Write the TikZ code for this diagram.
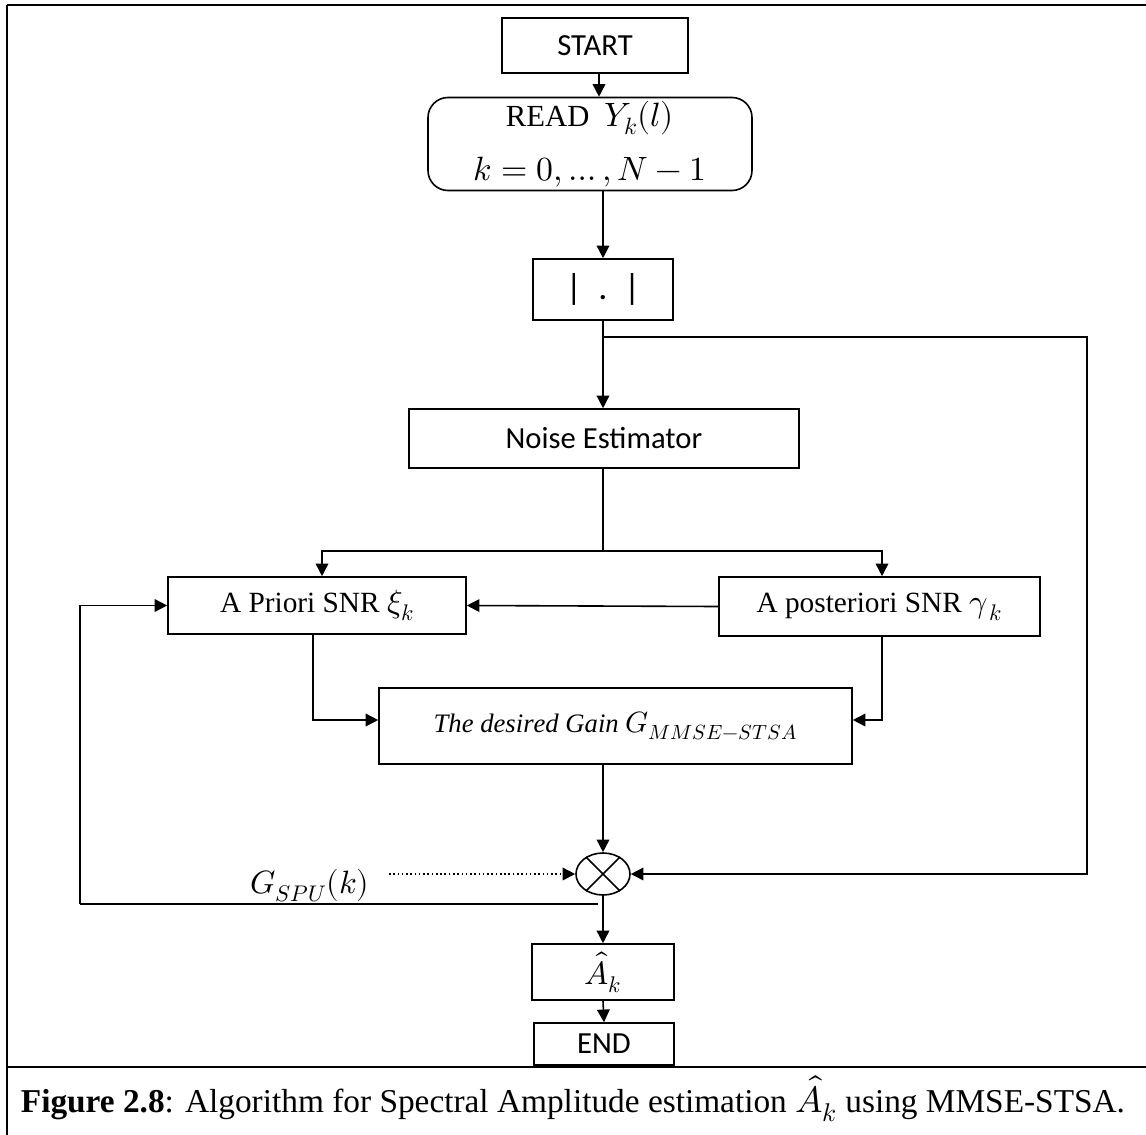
\documentclass[tikz,border=0pt]{standalone}
\usepackage{fontspec}
\usepackage{unicode-math}
\setmainfont{Liberation Serif}
\setmathfont{Latin Modern Math}[Scale=1.1]
\newfontfamily\calibrifont{Carlito}
\usetikzlibrary{arrows.meta,shapes.geometric}

\tikzset{
  box/.style={draw, line width=1.2pt, rectangle, inner sep=0pt,
    font=\fontsize{22}{26}\selectfont},
  sbox/.style={box, font=\calibrifont\fontsize{23}{27}\selectfont},
  flow/.style={line width=1.2pt, -{Triangle[length=9.5pt,width=9.5pt]}},
  wire/.style={line width=1.2pt},
  frame/.style={line width=2pt},
}

\begin{document}
\begin{tikzpicture}[x=0.75pt,y=-0.75pt]
\useasboundingbox (0,0) rectangle (1146,1135);

% outer frame and caption rule
\draw[frame] (7,5) -- (1146,5);
\draw[line width=1.4pt] (7,5) -- (7,1135);
\draw[frame] (7,1067) -- (1146,1067);

% blocks
\node[sbox, minimum width=139.5pt, minimum height=41.25pt] (start) at (595,45.5) {START};
\node[box, rounded corners=15pt, minimum width=243pt, minimum height=69.75pt,
      align=center, font=\fontsize{23}{27}\selectfont] (read) at (590,144)
      {READ\enspace $Y_k(l)$\\[14pt] $k=0,\dots,N-1$};
\node[sbox, minimum width=105pt, minimum height=45.75pt,
      font=\calibrifont\fontsize{27}{30}\selectfont] (abs) at (603,289.5) {|\ \ .\ \ |};
\node[sbox, minimum width=292.5pt, minimum height=44.25pt] (noise) at (604,438.5) {Noise Estimator};
\node[box, minimum width=223.5pt, minimum height=42.75pt] (pri) at (317,605.5) {A Priori SNR $\xi_k$};
\node[box, minimum width=240.75pt, minimum height=44.25pt] (post) at (879.5,606.5) {A posteriori SNR $\gamma_{\,k}$};
\node[box, minimum width=354.75pt, minimum height=57pt, font=\fontsize{20}{24}\selectfont]
      (gain) at (615.5,726) {$\mathit{The\ desired\ Gain}\ G_{MMSE-STSA}$};
\node[draw, line width=1.2pt, ellipse, minimum width=40.5pt, minimum height=31.5pt,
      inner sep=0pt] (mul) at (603,874) {};
\draw[line width=1.2pt] (mul.45) -- (mul.225) (mul.135) -- (mul.315);
\node[box, minimum width=106.5pt, minimum height=42pt] (ahat) at (603,972) {$\hat{A}_k$};
\node[sbox, minimum width=105pt, minimum height=31.5pt] (end) at (604,1044) {END};

% helper points
\coordinate (split) at (603,337);
\coordinate (right) at (1087,337);
\coordinate (fork) at (603,551);
\coordinate (gsrc) at (389,874);
\coordinate (fb) at (598,904);
\coordinate (fbl) at (80,904);

% main chain
\draw[flow] (start.south -| 599,0) -- (read.north -| 599,0);
\draw[flow] (read.south -| abs.north) -- (abs.north);
\draw[wire] (abs.south) -- (split);
\draw[flow] (split) -- (noise.north -| split);
\draw[flow] (split) -- (right) -- (right |- mul.east) -- (mul.east);

% noise estimator to the two SNR blocks
\draw[wire] (noise.south -| fork) -- (fork);
\draw[flow] (fork) -- (322,551) -- (pri.north -| 322,0);
\draw[flow] (fork) -- (882,551) -- (post.north -| 882,0);
\draw[flow] (post.west) -- (pri.east);

% SNR blocks to the gain
\draw[flow] (pri.south -| 313,0) -- (313,720) -- (gain.west |- 0,720);
\draw[flow] (post.south -| 882,0) -- (882,720) -- (gain.east |- 0,720);
\draw[flow] (gain.south -| mul.north) -- (mul.north);

% speech presence gain and feedback
\node[font=\fontsize{22}{26}\selectfont, anchor=east] (gspu) at (374,886) {$G_{SPU}(k)$};
\draw[line width=1.2pt, dotted, -{Triangle[length=9.5pt,width=9.5pt]}] (gsrc) -- (mul.west);
\draw[wire] (fb) -- (fbl);
\draw[flow] (fbl) -- (fbl |- pri.west) -- (pri.west);

% output
\draw[flow] (mul.south) -- (ahat.north);
\draw[flow] (ahat.south) -- (end.north);

% caption
\node[font=\fontsize{25}{30}\selectfont] (cap) at (573,1099)
  {\textbf{Figure 2.8}: Algorithm for Spectral Amplitude estimation $\hat{A}_k$ using MMSE-STSA.};
\end{tikzpicture}
\end{document}
